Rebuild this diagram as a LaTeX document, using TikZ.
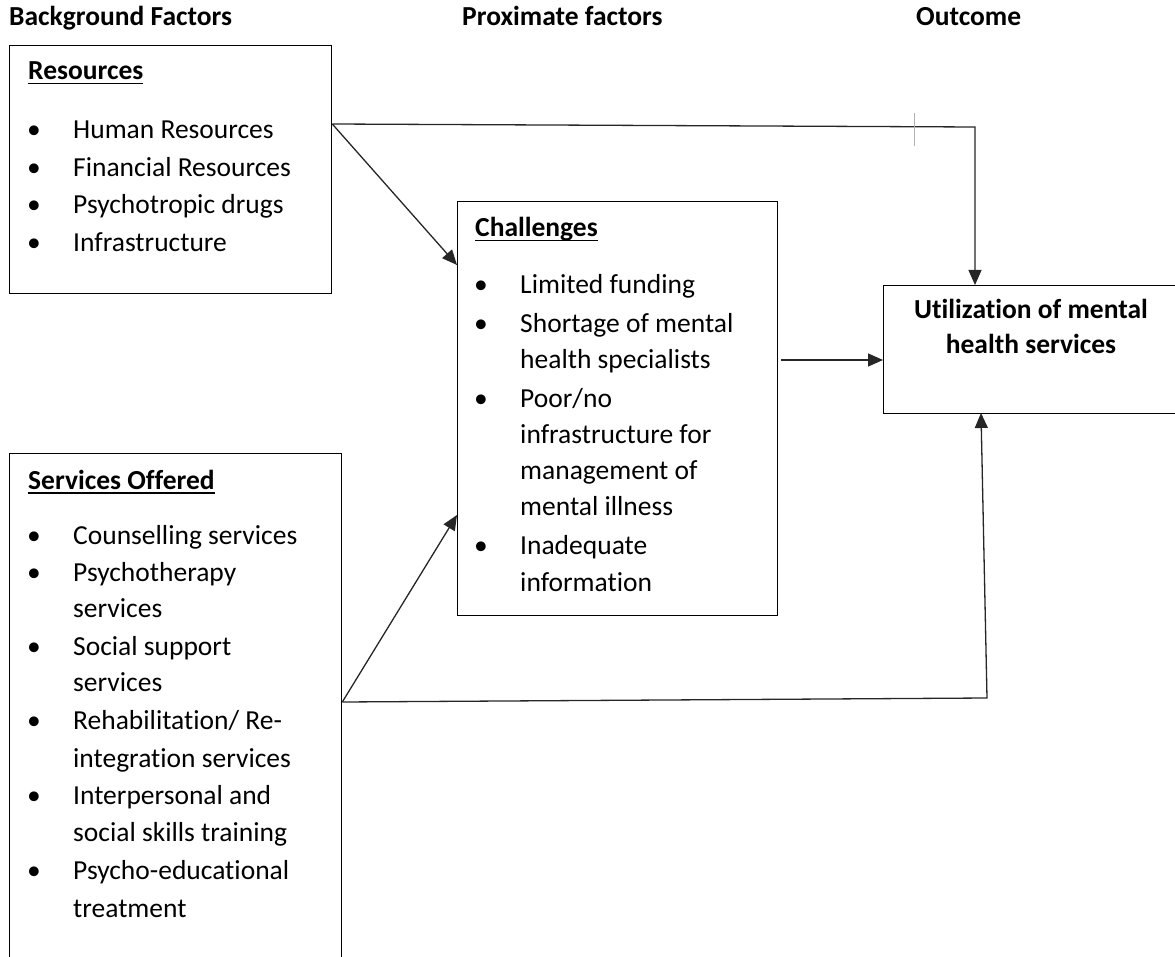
\documentclass[tikz,border=0pt]{standalone}
\usepackage{fontspec}
\setmainfont{Carlito}[Ligatures=NoCommon]
\usetikzlibrary{arrows.meta}
\newcommand\ulx[1]{\setbox0\hbox{#1}\rlap{\rule[-4.5pt]{\wd0}{1.6pt}}\box0}
\newcommand\bitem[4]{%
  \node[bul] (#1b) at (#2,#3+2) {•};
  \node[txt] (#1) at (#2+39,#3+2) {#4};}
\newcommand\cont[4]{\node[txt] (#1) at (#2+39,#3+2) {#4};}
\begin{document}
\begin{tikzpicture}[x=1pt,y=-1pt,
  font=\fontsize{27.5}{38}\selectfont,
  box/.style={draw, line width=1.3pt, inner sep=0pt, anchor=north west},
  txt/.style={anchor=base west, inner sep=0pt},
  hdr/.style={anchor=base west, inner sep=0pt, font=\fontsize{27.5}{38}\selectfont\bfseries},
  bul/.style={anchor=base, inner sep=0pt},
  conn/.style={line width=1.3pt, color=black!85},
  arr/.style={conn, -{Triangle[length=15pt,width=13pt]}}]
\useasboundingbox (0,0) rectangle (1175,957);
% boxes
\node[box, minimum width=322pt, minimum height=248pt] (res) at (9,45) {};
\node[box, minimum width=320pt, minimum height=414pt] (chal) at (457,201) {};
\node[box, minimum width=320pt, minimum height=128pt] (util) at (883,285) {};
\node[box, minimum width=332pt, minimum height=540pt] (serv) at (9,453) {};
% headers
\node[hdr] (h1) at (9,26) {Background Factors};
\node[hdr] (h2) at (462,26) {Proximate factors};
\node[hdr] (h3) at (916,26) {Outcome};
% resources
\node[hdr] (rt) at (28,80) {\ulx{Resources}};
\bitem{r1}{34}{137}{Human Resources}
\bitem{r2}{34}{174.5}{Financial Resources}
\bitem{r3}{34}{212}{Psychotropic drugs}
\bitem{r4}{34}{249.5}{Infrastructure}
% challenges
\node[hdr] (ct) at (475,237) {\ulx{Challenges}};
\bitem{c1}{481}{292}{Limited funding}
\bitem{c2}{481}{331}{Shortage of mental}
\cont{c2a}{481}{367}{health specialists}
\bitem{c3}{481}{405}{Poor/no}
\cont{c3a}{481}{441}{infrastructure for}
\cont{c3b}{481}{477}{management of}
\cont{c3c}{481}{513}{mental illness}
\bitem{c4}{481}{552}{Inadequate}
\cont{c4a}{481}{589}{information}
% utilization
\node[hdr, anchor=base] (u1) at (1031,319) {Utilization of mental};
\node[hdr, anchor=base] (u2) at (1031,354) {health services};
% services
\node[hdr] (st) at (28,489) {\ulx{Services Offered}};
\bitem{s1}{34}{542}{Counselling services}
\bitem{s2}{34}{579}{Psychotherapy}
\cont{s2a}{34}{615}{services}
\bitem{s3}{34}{653}{Social support}
\cont{s3a}{34}{689}{services}
\bitem{s4}{34}{727}{Rehabilitation/ Re-}
\cont{s4a}{34}{765}{integration services}
\bitem{s5}{34}{802}{Interpersonal and}
\cont{s5a}{34}{839}{social skills training}
\bitem{s6}{34}{877}{Psycho-educational}
\cont{s6a}{34}{915}{treatment}
% connector points
\coordinate (ra) at ([yshift=-79pt]res.north east);
\coordinate (rc) at (975,127);
\coordinate (sa) at ([yshift=-249pt]serv.north east);
\coordinate (sc) at (987,698);
\coordinate (ca) at ([xshift=3pt,yshift=-159pt]chal.north east);
% connectors
\draw[arr] (ra) -- (rc) -- (rc |- util.north);
\draw[arr] (ra) -- ([yshift=-64pt]chal.north west);
\draw[arr] (sa) -- ([yshift=-314pt]chal.north west);
\draw[arr] (sa) -- (sc) -- (981,413);
\draw[arr] (ca) -- (ca -| util.west);
\draw[line width=1pt, black!30] (914,113) -- (914,146);
\end{tikzpicture}
\end{document}
